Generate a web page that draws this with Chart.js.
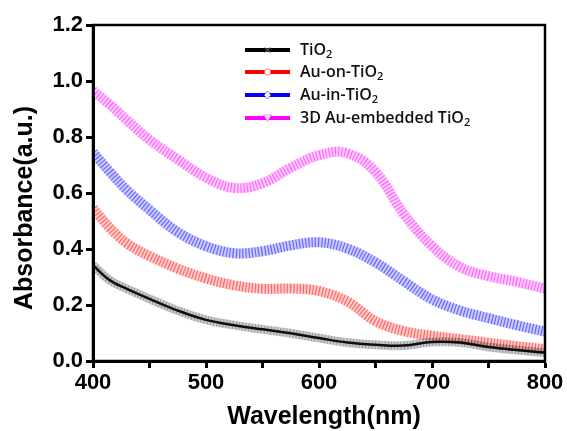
<!DOCTYPE html>
<html>
<head>
<meta charset="utf-8">
<script src="https://cdn.jsdelivr.net/npm/chart.js@4/dist/chart.umd.min.js"></script>
<style>
html,body{margin:0;padding:0;background:#fff;}
#wrap{width:567px;height:431px;}
</style>
</head>
<body>
<div id="wrap"><canvas id="c" width="567" height="431"></canvas></div>
<script>
// ---- data ----
const wavelengths = [400,415,430,450,475,500,525,550,575,600,625,650,675,700,725,750,775,800];
const tio2      = [0.342,0.288,0.258,0.222,0.180,0.147,0.128,0.113,0.099,0.082,0.066,0.058,0.055,0.068,0.066,0.050,0.039,0.030];
const auOnTio2  = [0.545,0.475,0.420,0.375,0.330,0.295,0.270,0.258,0.259,0.250,0.213,0.142,0.107,0.090,0.078,0.065,0.053,0.042];
const auInTio2  = [0.745,0.675,0.610,0.540,0.460,0.410,0.385,0.392,0.413,0.424,0.402,0.352,0.285,0.220,0.180,0.153,0.128,0.105];
const au3dTio2  = [0.965,0.915,0.860,0.790,0.720,0.655,0.618,0.635,0.690,0.735,0.742,0.675,0.525,0.410,0.335,0.303,0.283,0.258];
const seriesLabels = ['TiO₂','Au-on-TiO₂','Au-in-TiO₂','3D Au-embedded TiO₂'];
const yTickValues = [0.0,0.2,0.4,0.6,0.8,1.0,1.2];
const xTickValues = [400,500,600,700,800];
const xTitle = 'Wavelength(nm)';
const yTitle = 'Absorbance(a.u.)';

const colors = [[0,0,0],[255,0,0],[0,0,255],[255,0,255]];
const markers = ['cross','circle','diamond','triangleDown'];
const allSeries = [tio2, auOnTio2, auInTio2, au3dTio2];

function pts(vals){ return wavelengths.map((w,i)=>({x:w,y:vals[i]})); }
function rgba(c,a){ return 'rgba('+c[0]+','+c[1]+','+c[2]+','+a+')'; }

const datasets = [];
allSeries.forEach((vals,i)=>{
  const c = colors[i];
  const black = i===0;
  datasets.push({label:seriesLabels[i], data:pts(vals), borderColor: black? 'rgba(0,0,0,0.2)' : rgba(c,0.2),
    borderWidth: black?9:10, pointRadius:0, tension:0.4, fill:false});
  datasets.push({label:'', data:pts(vals), borderColor: black? 'rgba(60,60,60,0.3)' : rgba(c,0.5),
    borderWidth: black?8:10, borderDash:[1.2,2], pointRadius:0, tension:0.4, fill:false});
  if (black) {
    datasets.push({label:'', data:pts(vals), borderColor:'rgba(0,0,0,0.95)', borderWidth:2.5,
      pointRadius:0, tension:0.4, fill:false});
  }
});

const FONT = '"Liberation Sans", Arial, sans-serif';

const frame = {
  id:'frame',
  afterDraw(chart){
    const ctx = chart.ctx, a = chart.chartArea;
    ctx.save();
    ctx.strokeStyle = '#000'; ctx.lineWidth = 2.5;
    ctx.strokeRect(a.left, a.top, a.right-a.left, a.bottom-a.top);
    // axis titles
    ctx.fillStyle = '#000';
    ctx.font = 'bold 25px ' + FONT;
    ctx.textAlign = 'center'; ctx.textBaseline = 'middle';
    ctx.fillText(xTitle, 324, 417);
    ctx.translate(25, 208); ctx.rotate(-Math.PI/2);
    ctx.fillText(yTitle, 0, 0);
    ctx.restore();
  }
};

function drawLabel(ctx, text, x, y){
  const base = '600 16px "Open Sans"', sub = '600 11px "Open Sans"';
  let cx = x;
  for (const ch of text){
    if (ch==='₂'){ ctx.font = sub; ctx.fillText('2', cx, y+5); cx += ctx.measureText('2').width; }
    else { ctx.font = base; ctx.fillText(ch, cx, y); cx += ctx.measureText(ch).width; }
  }
}

const legendPlugin = {
  id:'customLegend',
  afterDraw(chart){
    const ctx = chart.ctx;
    const x0 = 245, x1 = 290, tx = 300, rows = [50,72,95,118];
    ctx.save();
    ctx.textBaseline = 'middle'; ctx.textAlign = 'left';
    seriesLabels.forEach((lab,i)=>{
      const y = rows[i];
      ctx.strokeStyle = rgba(colors[i],1); ctx.lineWidth = 4;
      ctx.beginPath(); ctx.moveTo(x0,y); ctx.lineTo(x1,y); ctx.stroke();
      const mx = (x0+x1)/2;
      ctx.lineWidth = 1;
      if (markers[i]==='cross'){
        ctx.strokeStyle = '#888';
        ctx.beginPath(); ctx.moveTo(mx-3,y-3); ctx.lineTo(mx+3,y+3); ctx.moveTo(mx+3,y-3); ctx.lineTo(mx-3,y+3); ctx.stroke();
      } else {
        ctx.fillStyle = '#fff'; ctx.strokeStyle = rgba(colors[i],0.5);
        ctx.beginPath();
        if (markers[i]==='circle'){ ctx.arc(mx,y,3.2,0,Math.PI*2); }
        else if (markers[i]==='diamond'){ ctx.moveTo(mx,y-4); ctx.lineTo(mx+3.5,y); ctx.lineTo(mx,y+4); ctx.lineTo(mx-3.5,y); ctx.closePath(); }
        else { ctx.moveTo(mx-4,y-3); ctx.lineTo(mx+4,y-3); ctx.lineTo(mx,y+3.5); ctx.closePath(); }
        ctx.fill(); ctx.stroke();
      }
      ctx.fillStyle = '#111';
      drawLabel(ctx, lab, tx, y);
    });
    ctx.restore();
  }
};

const tickFont = {family:FONT, size:22, weight:'bold'};

new Chart(document.getElementById('c'), {
  type:'line',
  data:{datasets},
  options:{
    responsive:false, animation:false, devicePixelRatio:1,
    layout:{padding:{top:25,right:22,left:0,bottom:0}},
    plugins:{legend:{display:false}, tooltip:{enabled:false}},
    scales:{
      x:{type:'linear', min:400, max:800,
        ticks:{stepSize:50, color:'#000', font:tickFont, padding:2, maxRotation:0,
          callback:(v)=> xTickValues.includes(v) ? String(v) : ''},
        grid:{drawOnChartArea:false, tickLength:7, tickColor:'#000', tickWidth:3},
        border:{display:true, color:'#000', width:3},
        afterFit(s){ s.height = 70; }
      },
      y:{min:0, max:1.2,
        ticks:{stepSize:0.1, color:'#000', font:tickFont, padding:3,
          callback:(v)=>{ const r=Math.round(v*10)/10; return yTickValues.some(t=>Math.abs(t-r)<1e-6) ? r.toFixed(1) : ''; }},
        grid:{drawOnChartArea:false, tickLength:7, tickColor:'#000', tickWidth:3},
        border:{display:true, color:'#000', width:3},
        afterFit(s){ s.width = 93; }
      }
    }
  },
  plugins:[frame, legendPlugin]
});
</script>
</body>
</html>
